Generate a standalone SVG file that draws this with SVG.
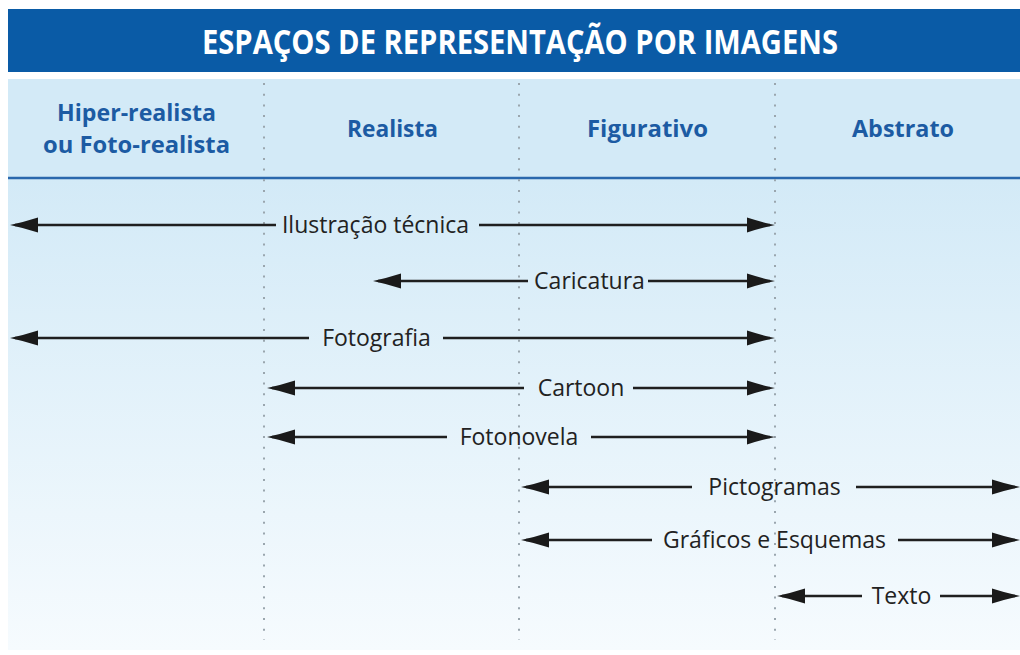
<svg xmlns="http://www.w3.org/2000/svg" width="1020" height="655" viewBox="0 0 1020 655">
<style>
.title{font-family:"Open Sans","Liberation Sans",sans-serif;font-weight:700;font-size:34px;fill:#ffffff}
.hdr{font-family:"Open Sans","Liberation Sans",sans-serif;font-weight:700;font-size:23.5px;fill:#1c5ba3}
.lbl{font-family:"Open Sans","Liberation Sans",sans-serif;font-size:23px;fill:#222222}
.ln{stroke:#1f1f1f;stroke-width:2.6;fill:none}
.dot{stroke:#9aa6ae;stroke-width:2;stroke-dasharray:2 8.7;fill:none}
</style>
<defs>
<linearGradient id="bodyg" x1="0" y1="0" x2="0" y2="1">
<stop offset="0" stop-color="#d3eaf7"/>
<stop offset="1" stop-color="#f6fbfe"/>
</linearGradient>
<marker id="ah" viewBox="0 0 28 16" refX="23" refY="8" markerWidth="28" markerHeight="16" markerUnits="userSpaceOnUse" orient="auto-start-reverse">
<path d="M0,0.5 Q14,5 28,8 Q14,11 0,15.5 z" fill="#1a1a1a"/>
</marker>
</defs>
<rect x="0" y="0" width="1020" height="655" fill="#ffffff"/>
<g id="title">
<rect x="8" y="9" width="1012" height="63" fill="#0a5ba6"/>
<text class="title" x="520" y="54" text-anchor="middle" textLength="636" lengthAdjust="spacingAndGlyphs">ESPAÇOS DE REPRESENTAÇÃO POR IMAGENS</text>
</g>
<g id="background">
<rect x="8" y="79" width="1012" height="100" fill="#d3eaf7"/>
<rect x="8" y="179" width="1012" height="471" fill="url(#bodyg)"/>
<line x1="8" y1="178" x2="1020" y2="178" stroke="#2a68ad" stroke-width="2.5"/>
</g>
<g id="dividers">
<line class="dot" x1="264" y1="83" x2="264" y2="640"/>
<line class="dot" x1="519" y1="83" x2="519" y2="640"/>
<line class="dot" x1="775" y1="83" x2="775" y2="640"/>
</g>
<g id="col-hiper">
<text class="hdr" x="136.5" y="121" text-anchor="middle" textLength="159" lengthAdjust="spacingAndGlyphs">Hiper-realista</text>
<text class="hdr" x="136.5" y="153" text-anchor="middle" textLength="187" lengthAdjust="spacingAndGlyphs">ou Foto-realista</text>
</g>
<g id="col-realista">
<text class="hdr" x="392.5" y="137" text-anchor="middle" textLength="91" lengthAdjust="spacingAndGlyphs">Realista</text>
</g>
<g id="col-figurativo">
<text class="hdr" x="647.5" y="137" text-anchor="middle" textLength="121" lengthAdjust="spacingAndGlyphs">Figurativo</text>
</g>
<g id="col-abstrato">
<text class="hdr" x="903" y="137" text-anchor="middle" textLength="102" lengthAdjust="spacingAndGlyphs">Abstrato</text>
</g>
<g id="connectors">
<line class="ln" x1="15" y1="225" x2="276" y2="225" marker-start="url(#ah)"/>
<line class="ln" x1="479" y1="225" x2="770" y2="225" marker-end="url(#ah)"/>
<line class="ln" x1="378" y1="281" x2="528" y2="281" marker-start="url(#ah)"/>
<line class="ln" x1="648" y1="281" x2="770" y2="281" marker-end="url(#ah)"/>
<line class="ln" x1="15" y1="338" x2="309" y2="338" marker-start="url(#ah)"/>
<line class="ln" x1="443" y1="338" x2="770" y2="338" marker-end="url(#ah)"/>
<line class="ln" x1="272" y1="388" x2="524" y2="388" marker-start="url(#ah)"/>
<line class="ln" x1="633" y1="388" x2="770" y2="388" marker-end="url(#ah)"/>
<line class="ln" x1="272" y1="437" x2="447" y2="437" marker-start="url(#ah)"/>
<line class="ln" x1="591" y1="437" x2="770" y2="437" marker-end="url(#ah)"/>
<line class="ln" x1="526" y1="487" x2="692" y2="487" marker-start="url(#ah)"/>
<line class="ln" x1="856" y1="487" x2="1015" y2="487" marker-end="url(#ah)"/>
<line class="ln" x1="526" y1="540" x2="652" y2="540" marker-start="url(#ah)"/>
<line class="ln" x1="898" y1="540" x2="1015" y2="540" marker-end="url(#ah)"/>
<line class="ln" x1="782" y1="596" x2="862" y2="596" marker-start="url(#ah)"/>
<line class="ln" x1="940" y1="596" x2="1015" y2="596" marker-end="url(#ah)"/>
</g>
<g id="labels">
<text class="lbl" x="375.5" y="233" text-anchor="middle">Ilustração técnica</text>
<text class="lbl" x="589.5" y="289" text-anchor="middle">Caricatura</text>
<text class="lbl" x="376.5" y="346" text-anchor="middle">Fotografia</text>
<text class="lbl" x="581" y="396" text-anchor="middle">Cartoon</text>
<text class="lbl" x="519" y="445" text-anchor="middle">Fotonovela</text>
<text class="lbl" x="774.5" y="495" text-anchor="middle">Pictogramas</text>
<text class="lbl" x="774.5" y="548" text-anchor="middle">Gráficos e Esquemas</text>
<text class="lbl" x="901.5" y="604" text-anchor="middle">Texto</text>
</g>
</svg>
